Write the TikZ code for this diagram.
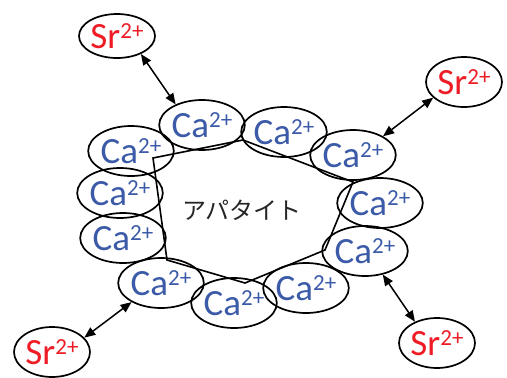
\documentclass[tikz,border=0pt]{standalone}
\usepackage{fontspec}
\setmainfont{Carlito}
\newfontfamily\jpfont{Noto Sans CJK JP}
\usetikzlibrary{shapes.geometric,arrows.meta}
\definecolor{cablue}{HTML}{3B5AA8}
\definecolor{srred}{HTML}{EE1C25}
\definecolor{jpgray}{HTML}{262626}
\newcommand{\ion}[1]{\fontsize{37}{37}\selectfont #1\raisebox{10pt}{\fontsize{23}{23}\selectfont 2+}}
\tikzset{
  ionbox/.style={ellipse, draw=black, line width=1.7pt, inner sep=0pt, minimum width=82pt, minimum height=50pt},
  caion/.style={ionbox, text=cablue},
  srion/.style={ionbox, text=srred, minimum width=76pt},
  link/.style={line width=1.5pt, {Triangle[length=11pt,width=9pt]}-{Triangle[length=11pt,width=9pt]}},
  wall/.style={line width=1.6pt, line join=miter}
}
\begin{document}
\begin{tikzpicture}[x=1pt,y=-1pt]
\useasboundingbox (0,0) rectangle (507,378);
% Ca ions
\node[caion] (ca1) at (202,125) {\ion{Ca}};
\node[caion] (ca2) at (131,151) {\ion{Ca}};
\node[caion] (ca3) at (284,132) {\ion{Ca}};
\node[caion] (ca4) at (353,155) {\ion{Ca}};
\node[caion] (ca5) at (380,203) {\ion{Ca}};
\node[caion] (ca6) at (365,251) {\ion{Ca}};
\node[caion] (ca7) at (306,288) {\ion{Ca}};
\node[caion] (ca8) at (234,303) {\ion{Ca}};
\node[caion] (ca9) at (161,283) {\ion{Ca}};
\node[caion] (ca10) at (123,238) {\ion{Ca}};
\node[caion] (ca11) at (120,193) {\ion{Ca}};
% Sr ions
\node[srion, minimum height=44pt] (sr1) at (117,36) {\ion{Sr}};
\node[srion] (sr2) at (464,82) {\ion{Sr}};
\node[srion] (sr3) at (52,352) {\ion{Sr}};
\node[srion] (sr4) at (437,343) {\ion{Sr}};
% apatite outline
\coordinate (p1) at (153,158);
\coordinate (p2) at (243,140);
\coordinate (p3) at (353,182);
\coordinate (p4) at (325,250);
\coordinate (p5) at (245,283);
\coordinate (p6) at (167,260);
\draw[wall] (p1) -- (p2) -- (p3) -- (p4) -- (p5) -- (p6) -- cycle;
\node[text=jpgray, inner sep=0pt] (apa) at (242,210) {\jpfont\fontsize{24}{24}\selectfont アパタイト};
% exchange arrows
\draw[link] (sr1.-37) -- (ca1.142);
\draw[link] (sr2.-153) -- (ca4.32);
\draw[link] (ca9.-147) -- (sr3.24);
\draw[link] (ca6.-53) -- (sr4.136);
\end{tikzpicture}
\end{document}
